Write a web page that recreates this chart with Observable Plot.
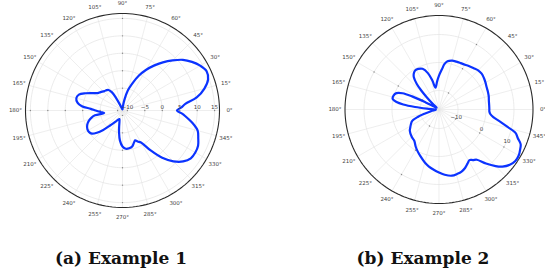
<!DOCTYPE html>
<html><head><meta charset="utf-8">
<script src="https://cdn.jsdelivr.net/npm/d3@7"></script>
<script src="https://cdn.jsdelivr.net/npm/@observablehq/plot@0.6"></script>
<style>
body{margin:0;background:#fff;width:545px;height:275px;position:relative;overflow:hidden;font-family:"DejaVu Sans",sans-serif}
.panel{position:absolute;top:0}
.cap{position:absolute;font-family:"DejaVu Serif",serif;font-weight:bold;font-size:17px;line-height:20px;color:#111;white-space:nowrap;transform:translateX(-50%)}
</style></head><body>
<div id="a" class="panel" style="left:0"></div>
<div id="b" class="panel" style="left:272px"></div>
<div class="cap" style="left:121px;top:248px">(a) Example 1</div>
<div class="cap" style="left:423px;top:248px">(b) Example 2</div>
<script>
const angleTicks = [0,15,30,45,60,75,90,105,120,135,150,165,180,195,210,225,240,255,270,285,300,315,330,345];
const angleLabels = ["0°","15°","30°","45°","60°","75°","90°","105°","120°","135°","150°","165°","180°","195°","210°","225°","240°","255°","270°","285°","300°","315°","330°","345°"];

// Example 1 (angle in degrees, gain in dB)
const ex1Angles = [0,3,6,10,15,20,25,30,35,40,45,50,55,60,65,70,75,80,85,90,100,110,114,117,120,124,128,133,140,145,150,155,160,165,170,174,177,180,184,188,190,193,197,202,208,213,217,221,225,230,235,240,245,250,255,258,261,265,270,275,280,285,290,293,296,300,305,310,315,320,325,330,335,340,345,350,355,357];
const ex1Gain = [4.2,5.5,6.7,10.2,12.9,14.7,15.2,14.3,12.9,11.2,8.9,6.6,4.3,2.0,-0.4,-3.1,-5.4,-8.3,-10.3,-11.1,-11.0,-10.5,-9.4,-7.4,-5.4,-4.3,-4.0,-3.8,-3.2,-2.7,-1.4,0.3,1.9,2.3,1.7,0.3,-2.3,-3.7,-5.1,-6.1,-3.4,-2.3,-1.3,-0.5,0.0,0.0,-0.4,-1.7,-3.4,-5.7,-7.1,-8.0,-8.5,-8.8,-8.0,-6.8,-5.1,-2.8,-1.1,-0.4,-0.4,-0.7,-1.7,-2.1,-1.5,-0.8,2.5,6.3,9.2,11.3,12.5,12.7,12.5,11.7,10.9,8.9,6.6,5.7];
const ex1RadialTicks = [-10,-5,0,5,10,15];
const ex1RLim = [-11.4, 16.4];

// Example 2
const ex2Angles = [0,5,10,15,20,25,30,35,40,45,50,55,60,65,70,75,80,83,86,90,94,99,103,107,112,117,121,125,128,131,133,135,138,142,146,150,152,154,156,159,163,167,170,172,174,176,180,186,192,196,199,203,208,212,216,225,232,238,243,248,255,260,265,270,275,281,286,290,294,298,301,304,307,311,315,318,322,326,330,334,337,340,343,346,349,352,355,358];
const ex2Gain = [1.2,1.2,1.3,1.6,1.8,2.0,2.4,2.8,3.1,3.0,2.5,2.1,1.7,1.5,1.4,1.3,0.7,-0.4,-2.5,-4.7,-6.8,-8.9,-6.1,-3.2,-1.1,-0.5,-0.4,-1.1,-2.2,-4.7,-7.5,-10.7,-13.9,-15.7,-15.7,-14.3,-11.4,-6.1,-2.5,-0.5,0.2,0.2,-1.4,-3.9,-8.2,-12.5,-15.4,-15.7,-13.9,-11.4,-8.9,-6.4,-5.4,-4.7,-3.9,-3.0,-2.5,-1.1,0.0,1.1,2.8,3.9,4.8,5.7,6.6,7.3,7.1,6.8,6.1,5.0,4.3,5.0,5.7,8.8,11.8,13.7,15.3,16.1,16.1,15.5,14.9,13.2,11.8,8.2,5.3,2.8,1.6,1.2];
const ex2RadialTicks = [-10,0,10];
const ex2RLim = [-16.8, 16.8];

const circleAngles = d3.range(0, 360, 2);
const rad = a => a * Math.PI / 180;
const px = (r, a) => r * Math.cos(rad(a));
const py = (r, a) => r * Math.sin(rad(a));

function polarChart({angles, gains, rlim, rticks, rlabelAngle, rlabelDy, tickSpokes, width, height, cx, cy, R}) {
  const rho = d3.scaleLinear().domain(rlim).range([0, 1]);
  const curve = angles.map((a, i) => ({a, g: gains[i]}));
  const gridCircles = rticks.flatMap(t => circleAngles.map(a => ({t, a})));
  const outer = circleAngles.map(a => ({a}));
  const spokes = angleTicks.map((a, i) => ({a, label: angleLabels[i]}));
  const tickDots = tickSpokes.flatMap(a => rticks.map(t => ({a, t})));
  const lab = 1 + 10 / R;
  return Plot.plot({
    width, height,
    marginLeft: cx - R, marginRight: width - cx - R, marginTop: cy - R, marginBottom: height - cy - R,
    x: {domain: [-1, 1], axis: null},
    y: {domain: [-1, 1], axis: null},
    style: {overflow: "visible", fontFamily: "DejaVu Sans", background: "transparent"},
    marks: [
      Plot.link(spokes, {x1: 0, y1: 0, x2: d => px(1, d.a), y2: d => py(1, d.a), stroke: "#e2e2e2", strokeWidth: 0.6}),
      Plot.line(gridCircles, {x: d => px(rho(d.t), d.a), y: d => py(rho(d.t), d.a), z: "t", curve: "linear-closed", stroke: "#e2e2e2", strokeWidth: 0.7}),
      Plot.dot(tickDots, {x: d => px(rho(d.t), d.a), y: d => py(rho(d.t), d.a), r: 0.7, fill: "#888"}),
      Plot.line(outer, {x: d => px(1, d.a), y: d => py(1, d.a), curve: "linear-closed", stroke: "#2a2a2a", strokeWidth: 1.1}),
      Plot.line(curve, {x: d => px(rho(d.g), d.a), y: d => py(rho(d.g), d.a), curve: "catmull-rom-closed", stroke: "#0b33ff", strokeWidth: 2.2, strokeLinejoin: "round"}),
      Plot.text(spokes, {x: d => px(lab, d.a), y: d => py(lab, d.a), text: "label", fontSize: 5.5, fill: "#444"}),
      Plot.text(rticks, {x: d => px(rho(d), rlabelAngle), y: d => py(rho(d), rlabelAngle), text: d => String(d).replace("-", "−"), fontSize: 5.5, fill: "#444", dy: rlabelDy})
    ]
  });
}

document.getElementById("a").append(polarChart({
  angles: ex1Angles, gains: ex1Gain, rlim: ex1RLim, rticks: ex1RadialTicks,
  rlabelAngle: 0, rlabelDy: -3, tickSpokes: [0, 90, 180, 270],
  width: 272, height: 225, cx: 122, cy: 110, R: 97
}));
document.getElementById("b").append(polarChart({
  angles: ex2Angles, gains: ex2Gain, rlim: ex2RLim, rticks: ex2RadialTicks,
  rlabelAngle: -25, rlabelDy: 0, tickSpokes: [60, 150, 240, 330],
  width: 273, height: 225, cx: 166.5, cy: 109, R: 94
}));
</script>
</body></html>
